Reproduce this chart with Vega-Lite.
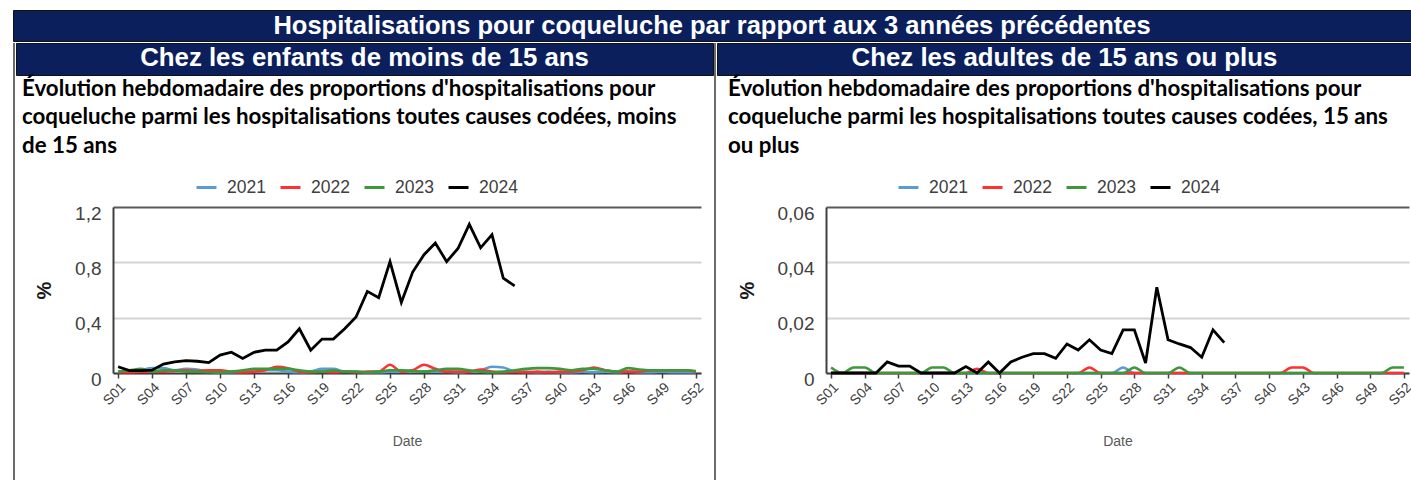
{
"$schema": "https://vega.github.io/schema/vega-lite/v6.json",
"background": "white",
"padding": {"left": 12, "top": 9, "right": 0, "bottom": 0},
"autosize": {"type": "pad"},
"datasets": {
"enfants": [
{"semaine":"S01","annee":"2021","valeur":0.01},{"semaine":"S02","annee":"2021","valeur":0.01},{"semaine":"S03","annee":"2021","valeur":0.02},{"semaine":"S04","annee":"2021","valeur":0.035},{"semaine":"S05","annee":"2021","valeur":0.035},{"semaine":"S06","annee":"2021","valeur":0.02},{"semaine":"S07","annee":"2021","valeur":0.03},{"semaine":"S08","annee":"2021","valeur":0.025},{"semaine":"S09","annee":"2021","valeur":0.01},{"semaine":"S10","annee":"2021","valeur":0.005},
{"semaine":"S11","annee":"2021","valeur":0.005},{"semaine":"S12","annee":"2021","valeur":0.01},{"semaine":"S13","annee":"2021","valeur":0.01},{"semaine":"S14","annee":"2021","valeur":0.02},{"semaine":"S15","annee":"2021","valeur":0.02},{"semaine":"S16","annee":"2021","valeur":0.01},{"semaine":"S17","annee":"2021","valeur":0.005},{"semaine":"S18","annee":"2021","valeur":0.01},{"semaine":"S19","annee":"2021","valeur":0.03},{"semaine":"S20","annee":"2021","valeur":0.03},
{"semaine":"S21","annee":"2021","valeur":0.01},{"semaine":"S22","annee":"2021","valeur":0.01},{"semaine":"S23","annee":"2021","valeur":0.005},{"semaine":"S24","annee":"2021","valeur":0.005},{"semaine":"S25","annee":"2021","valeur":0.01},{"semaine":"S26","annee":"2021","valeur":0.01},{"semaine":"S27","annee":"2021","valeur":0.015},{"semaine":"S28","annee":"2021","valeur":0.01},{"semaine":"S29","annee":"2021","valeur":0.01},{"semaine":"S30","annee":"2021","valeur":0.01},
{"semaine":"S31","annee":"2021","valeur":0.005},{"semaine":"S32","annee":"2021","valeur":0.01},{"semaine":"S33","annee":"2021","valeur":0.02},{"semaine":"S34","annee":"2021","valeur":0.045},{"semaine":"S35","annee":"2021","valeur":0.04},{"semaine":"S36","annee":"2021","valeur":0.01},{"semaine":"S37","annee":"2021","valeur":0.01},{"semaine":"S38","annee":"2021","valeur":0.005},{"semaine":"S39","annee":"2021","valeur":0.01},{"semaine":"S40","annee":"2021","valeur":0.005},
{"semaine":"S41","annee":"2021","valeur":0.005},{"semaine":"S42","annee":"2021","valeur":0.01},{"semaine":"S43","annee":"2021","valeur":0.005},{"semaine":"S44","annee":"2021","valeur":0.01},{"semaine":"S45","annee":"2021","valeur":0.005},{"semaine":"S46","annee":"2021","valeur":0.01},{"semaine":"S47","annee":"2021","valeur":0.005},{"semaine":"S48","annee":"2021","valeur":0.005},{"semaine":"S49","annee":"2021","valeur":0.01},{"semaine":"S50","annee":"2021","valeur":0.005},{"semaine":"S51","annee":"2021","valeur":0.005},{"semaine":"S52","annee":"2021","valeur":0.005},
{"semaine":"S01","annee":"2022","valeur":0.005},{"semaine":"S02","annee":"2022","valeur":0.005},{"semaine":"S03","annee":"2022","valeur":0.01},{"semaine":"S04","annee":"2022","valeur":0.01},{"semaine":"S05","annee":"2022","valeur":0.01},{"semaine":"S06","annee":"2022","valeur":0.015},{"semaine":"S07","annee":"2022","valeur":0.02},{"semaine":"S08","annee":"2022","valeur":0.015},{"semaine":"S09","annee":"2022","valeur":0.02},{"semaine":"S10","annee":"2022","valeur":0.02},
{"semaine":"S11","annee":"2022","valeur":0.01},{"semaine":"S12","annee":"2022","valeur":0.005},{"semaine":"S13","annee":"2022","valeur":0.01},{"semaine":"S14","annee":"2022","valeur":0.02},{"semaine":"S15","annee":"2022","valeur":0.045},{"semaine":"S16","annee":"2022","valeur":0.035},{"semaine":"S17","annee":"2022","valeur":0.01},{"semaine":"S18","annee":"2022","valeur":0.005},{"semaine":"S19","annee":"2022","valeur":0.01},{"semaine":"S20","annee":"2022","valeur":0.005},
{"semaine":"S21","annee":"2022","valeur":0.01},{"semaine":"S22","annee":"2022","valeur":0.005},{"semaine":"S23","annee":"2022","valeur":0.01},{"semaine":"S24","annee":"2022","valeur":0.01},{"semaine":"S25","annee":"2022","valeur":0.06},{"semaine":"S26","annee":"2022","valeur":0.01},{"semaine":"S27","annee":"2022","valeur":0.02},{"semaine":"S28","annee":"2022","valeur":0.06},{"semaine":"S29","annee":"2022","valeur":0.03},{"semaine":"S30","annee":"2022","valeur":0.01},
{"semaine":"S31","annee":"2022","valeur":0.01},{"semaine":"S32","annee":"2022","valeur":0.01},{"semaine":"S33","annee":"2022","valeur":0.025},{"semaine":"S34","annee":"2022","valeur":0.01},{"semaine":"S35","annee":"2022","valeur":0.005},{"semaine":"S36","annee":"2022","valeur":0.01},{"semaine":"S37","annee":"2022","valeur":0.005},{"semaine":"S38","annee":"2022","valeur":0.01},{"semaine":"S39","annee":"2022","valeur":0.005},{"semaine":"S40","annee":"2022","valeur":0.01},
{"semaine":"S41","annee":"2022","valeur":0.01},{"semaine":"S42","annee":"2022","valeur":0.02},{"semaine":"S43","annee":"2022","valeur":0.04},{"semaine":"S44","annee":"2022","valeur":0.02},{"semaine":"S45","annee":"2022","valeur":0.01},{"semaine":"S46","annee":"2022","valeur":0.01},{"semaine":"S47","annee":"2022","valeur":0.01},{"semaine":"S48","annee":"2022","valeur":0.02},{"semaine":"S49","annee":"2022","valeur":0.02},{"semaine":"S50","annee":"2022","valeur":0.02},{"semaine":"S51","annee":"2022","valeur":0.02},{"semaine":"S52","annee":"2022","valeur":0.01},
{"semaine":"S01","annee":"2023","valeur":0.01},{"semaine":"S02","annee":"2023","valeur":0.02},{"semaine":"S03","annee":"2023","valeur":0.03},{"semaine":"S04","annee":"2023","valeur":0.01},{"semaine":"S05","annee":"2023","valeur":0.02},{"semaine":"S06","annee":"2023","valeur":0.02},{"semaine":"S07","annee":"2023","valeur":0.01},{"semaine":"S08","annee":"2023","valeur":0.01},{"semaine":"S09","annee":"2023","valeur":0.005},{"semaine":"S10","annee":"2023","valeur":0.005},
{"semaine":"S11","annee":"2023","valeur":0.01},{"semaine":"S12","annee":"2023","valeur":0.02},{"semaine":"S13","annee":"2023","valeur":0.03},{"semaine":"S14","annee":"2023","valeur":0.03},{"semaine":"S15","annee":"2023","valeur":0.03},{"semaine":"S16","annee":"2023","valeur":0.03},{"semaine":"S17","annee":"2023","valeur":0.02},{"semaine":"S18","annee":"2023","valeur":0.01},{"semaine":"S19","annee":"2023","valeur":0.01},{"semaine":"S20","annee":"2023","valeur":0.02},
{"semaine":"S21","annee":"2023","valeur":0.01},{"semaine":"S22","annee":"2023","valeur":0.01},{"semaine":"S23","annee":"2023","valeur":0.005},{"semaine":"S24","annee":"2023","valeur":0.01},{"semaine":"S25","annee":"2023","valeur":0.02},{"semaine":"S26","annee":"2023","valeur":0.02},{"semaine":"S27","annee":"2023","valeur":0.015},{"semaine":"S28","annee":"2023","valeur":0.01},{"semaine":"S29","annee":"2023","valeur":0.02},{"semaine":"S30","annee":"2023","valeur":0.03},
{"semaine":"S31","annee":"2023","valeur":0.03},{"semaine":"S32","annee":"2023","valeur":0.02},{"semaine":"S33","annee":"2023","valeur":0.01},{"semaine":"S34","annee":"2023","valeur":0.005},{"semaine":"S35","annee":"2023","valeur":0.01},{"semaine":"S36","annee":"2023","valeur":0.02},{"semaine":"S37","annee":"2023","valeur":0.03},{"semaine":"S38","annee":"2023","valeur":0.035},{"semaine":"S39","annee":"2023","valeur":0.035},{"semaine":"S40","annee":"2023","valeur":0.03},
{"semaine":"S41","annee":"2023","valeur":0.02},{"semaine":"S42","annee":"2023","valeur":0.03},{"semaine":"S43","annee":"2023","valeur":0.03},{"semaine":"S44","annee":"2023","valeur":0.02},{"semaine":"S45","annee":"2023","valeur":0.01},{"semaine":"S46","annee":"2023","valeur":0.035},{"semaine":"S47","annee":"2023","valeur":0.025},{"semaine":"S48","annee":"2023","valeur":0.02},{"semaine":"S49","annee":"2023","valeur":0.02},{"semaine":"S50","annee":"2023","valeur":0.02},{"semaine":"S51","annee":"2023","valeur":0.02},{"semaine":"S52","annee":"2023","valeur":0.015},
{"semaine":"S01","annee":"2024","valeur":0.045},{"semaine":"S02","annee":"2024","valeur":0.017},{"semaine":"S03","annee":"2024","valeur":0.017},{"semaine":"S04","annee":"2024","valeur":0.02},{"semaine":"S05","annee":"2024","valeur":0.065},{"semaine":"S06","annee":"2024","valeur":0.08},{"semaine":"S07","annee":"2024","valeur":0.09},{"semaine":"S08","annee":"2024","valeur":0.085},{"semaine":"S09","annee":"2024","valeur":0.075},{"semaine":"S10","annee":"2024","valeur":0.13},
{"semaine":"S11","annee":"2024","valeur":0.15},{"semaine":"S12","annee":"2024","valeur":0.105},{"semaine":"S13","annee":"2024","valeur":0.15},{"semaine":"S14","annee":"2024","valeur":0.165},{"semaine":"S15","annee":"2024","valeur":0.165},{"semaine":"S16","annee":"2024","valeur":0.225},{"semaine":"S17","annee":"2024","valeur":0.32},{"semaine":"S18","annee":"2024","valeur":0.165},{"semaine":"S19","annee":"2024","valeur":0.245},{"semaine":"S20","annee":"2024","valeur":0.245},
{"semaine":"S21","annee":"2024","valeur":0.32},{"semaine":"S22","annee":"2024","valeur":0.405},{"semaine":"S23","annee":"2024","valeur":0.59},{"semaine":"S24","annee":"2024","valeur":0.545},{"semaine":"S25","annee":"2024","valeur":0.805},{"semaine":"S26","annee":"2024","valeur":0.51},{"semaine":"S27","annee":"2024","valeur":0.73},{"semaine":"S28","annee":"2024","valeur":0.855},{"semaine":"S29","annee":"2024","valeur":0.94},{"semaine":"S30","annee":"2024","valeur":0.805},
{"semaine":"S31","annee":"2024","valeur":0.9},{"semaine":"S32","annee":"2024","valeur":1.075},{"semaine":"S33","annee":"2024","valeur":0.905},{"semaine":"S34","annee":"2024","valeur":1.0},{"semaine":"S35","annee":"2024","valeur":0.685},{"semaine":"S36","annee":"2024","valeur":0.63}
],
"adultes": [
{"semaine":"S01","annee":"2021","valeur":0},{"semaine":"S02","annee":"2021","valeur":0},{"semaine":"S03","annee":"2021","valeur":0},{"semaine":"S04","annee":"2021","valeur":0},{"semaine":"S05","annee":"2021","valeur":0},{"semaine":"S06","annee":"2021","valeur":0},{"semaine":"S07","annee":"2021","valeur":0},{"semaine":"S08","annee":"2021","valeur":0},{"semaine":"S09","annee":"2021","valeur":0},{"semaine":"S10","annee":"2021","valeur":0},
{"semaine":"S11","annee":"2021","valeur":0},{"semaine":"S12","annee":"2021","valeur":0},{"semaine":"S13","annee":"2021","valeur":0},{"semaine":"S14","annee":"2021","valeur":0},{"semaine":"S15","annee":"2021","valeur":0},{"semaine":"S16","annee":"2021","valeur":0},{"semaine":"S17","annee":"2021","valeur":0},{"semaine":"S18","annee":"2021","valeur":0},{"semaine":"S19","annee":"2021","valeur":0},{"semaine":"S20","annee":"2021","valeur":0},
{"semaine":"S21","annee":"2021","valeur":0},{"semaine":"S22","annee":"2021","valeur":0},{"semaine":"S23","annee":"2021","valeur":0},{"semaine":"S24","annee":"2021","valeur":0},{"semaine":"S25","annee":"2021","valeur":0},{"semaine":"S26","annee":"2021","valeur":0},{"semaine":"S27","annee":"2021","valeur":0.002},{"semaine":"S28","annee":"2021","valeur":0},{"semaine":"S29","annee":"2021","valeur":0},{"semaine":"S30","annee":"2021","valeur":0},
{"semaine":"S31","annee":"2021","valeur":0},{"semaine":"S32","annee":"2021","valeur":0},{"semaine":"S33","annee":"2021","valeur":0},{"semaine":"S34","annee":"2021","valeur":0},{"semaine":"S35","annee":"2021","valeur":0},{"semaine":"S36","annee":"2021","valeur":0},{"semaine":"S37","annee":"2021","valeur":0},{"semaine":"S38","annee":"2021","valeur":0},{"semaine":"S39","annee":"2021","valeur":0},{"semaine":"S40","annee":"2021","valeur":0},
{"semaine":"S41","annee":"2021","valeur":0},{"semaine":"S42","annee":"2021","valeur":0},{"semaine":"S43","annee":"2021","valeur":0},{"semaine":"S44","annee":"2021","valeur":0},{"semaine":"S45","annee":"2021","valeur":0},{"semaine":"S46","annee":"2021","valeur":0},{"semaine":"S47","annee":"2021","valeur":0},{"semaine":"S48","annee":"2021","valeur":0},{"semaine":"S49","annee":"2021","valeur":0},{"semaine":"S50","annee":"2021","valeur":0},{"semaine":"S51","annee":"2021","valeur":0},{"semaine":"S52","annee":"2021","valeur":0},
{"semaine":"S01","annee":"2022","valeur":0},{"semaine":"S02","annee":"2022","valeur":0},{"semaine":"S03","annee":"2022","valeur":0},{"semaine":"S04","annee":"2022","valeur":0},{"semaine":"S05","annee":"2022","valeur":0},{"semaine":"S06","annee":"2022","valeur":0},{"semaine":"S07","annee":"2022","valeur":0},{"semaine":"S08","annee":"2022","valeur":0},{"semaine":"S09","annee":"2022","valeur":0},{"semaine":"S10","annee":"2022","valeur":0},
{"semaine":"S11","annee":"2022","valeur":0},{"semaine":"S12","annee":"2022","valeur":0},{"semaine":"S13","annee":"2022","valeur":0},{"semaine":"S14","annee":"2022","valeur":0.0015},{"semaine":"S15","annee":"2022","valeur":0},{"semaine":"S16","annee":"2022","valeur":0},{"semaine":"S17","annee":"2022","valeur":0},{"semaine":"S18","annee":"2022","valeur":0},{"semaine":"S19","annee":"2022","valeur":0},{"semaine":"S20","annee":"2022","valeur":0},
{"semaine":"S21","annee":"2022","valeur":0},{"semaine":"S22","annee":"2022","valeur":0},{"semaine":"S23","annee":"2022","valeur":0},{"semaine":"S24","annee":"2022","valeur":0.002},{"semaine":"S25","annee":"2022","valeur":0},{"semaine":"S26","annee":"2022","valeur":0},{"semaine":"S27","annee":"2022","valeur":0},{"semaine":"S28","annee":"2022","valeur":0},{"semaine":"S29","annee":"2022","valeur":0},{"semaine":"S30","annee":"2022","valeur":0},
{"semaine":"S31","annee":"2022","valeur":0},{"semaine":"S32","annee":"2022","valeur":0},{"semaine":"S33","annee":"2022","valeur":0},{"semaine":"S34","annee":"2022","valeur":0},{"semaine":"S35","annee":"2022","valeur":0},{"semaine":"S36","annee":"2022","valeur":0},{"semaine":"S37","annee":"2022","valeur":0},{"semaine":"S38","annee":"2022","valeur":0},{"semaine":"S39","annee":"2022","valeur":0},{"semaine":"S40","annee":"2022","valeur":0},
{"semaine":"S41","annee":"2022","valeur":0},{"semaine":"S42","annee":"2022","valeur":0.002},{"semaine":"S43","annee":"2022","valeur":0.002},{"semaine":"S44","annee":"2022","valeur":0},{"semaine":"S45","annee":"2022","valeur":0},{"semaine":"S46","annee":"2022","valeur":0},{"semaine":"S47","annee":"2022","valeur":0},{"semaine":"S48","annee":"2022","valeur":0},{"semaine":"S49","annee":"2022","valeur":0},{"semaine":"S50","annee":"2022","valeur":0},{"semaine":"S51","annee":"2022","valeur":0},{"semaine":"S52","annee":"2022","valeur":0},
{"semaine":"S01","annee":"2023","valeur":0.002},{"semaine":"S02","annee":"2023","valeur":0},{"semaine":"S03","annee":"2023","valeur":0.002},{"semaine":"S04","annee":"2023","valeur":0.002},{"semaine":"S05","annee":"2023","valeur":0},{"semaine":"S06","annee":"2023","valeur":0},{"semaine":"S07","annee":"2023","valeur":0},{"semaine":"S08","annee":"2023","valeur":0},{"semaine":"S09","annee":"2023","valeur":0},{"semaine":"S10","annee":"2023","valeur":0.002},
{"semaine":"S11","annee":"2023","valeur":0.002},{"semaine":"S12","annee":"2023","valeur":0},{"semaine":"S13","annee":"2023","valeur":0},{"semaine":"S14","annee":"2023","valeur":0},{"semaine":"S15","annee":"2023","valeur":0},{"semaine":"S16","annee":"2023","valeur":0},{"semaine":"S17","annee":"2023","valeur":0},{"semaine":"S18","annee":"2023","valeur":0},{"semaine":"S19","annee":"2023","valeur":0},{"semaine":"S20","annee":"2023","valeur":0},
{"semaine":"S21","annee":"2023","valeur":0},{"semaine":"S22","annee":"2023","valeur":0},{"semaine":"S23","annee":"2023","valeur":0},{"semaine":"S24","annee":"2023","valeur":0},{"semaine":"S25","annee":"2023","valeur":0},{"semaine":"S26","annee":"2023","valeur":0},{"semaine":"S27","annee":"2023","valeur":0},{"semaine":"S28","annee":"2023","valeur":0.002},{"semaine":"S29","annee":"2023","valeur":0},{"semaine":"S30","annee":"2023","valeur":0},
{"semaine":"S31","annee":"2023","valeur":0},{"semaine":"S32","annee":"2023","valeur":0.002},{"semaine":"S33","annee":"2023","valeur":0},{"semaine":"S34","annee":"2023","valeur":0},{"semaine":"S35","annee":"2023","valeur":0},{"semaine":"S36","annee":"2023","valeur":0},{"semaine":"S37","annee":"2023","valeur":0},{"semaine":"S38","annee":"2023","valeur":0},{"semaine":"S39","annee":"2023","valeur":0},{"semaine":"S40","annee":"2023","valeur":0},
{"semaine":"S41","annee":"2023","valeur":0},{"semaine":"S42","annee":"2023","valeur":0},{"semaine":"S43","annee":"2023","valeur":0},{"semaine":"S44","annee":"2023","valeur":0},{"semaine":"S45","annee":"2023","valeur":0},{"semaine":"S46","annee":"2023","valeur":0},{"semaine":"S47","annee":"2023","valeur":0},{"semaine":"S48","annee":"2023","valeur":0},{"semaine":"S49","annee":"2023","valeur":0},{"semaine":"S50","annee":"2023","valeur":0},{"semaine":"S51","annee":"2023","valeur":0.002},{"semaine":"S52","annee":"2023","valeur":0.002},
{"semaine":"S01","annee":"2024","valeur":0},{"semaine":"S02","annee":"2024","valeur":0},{"semaine":"S03","annee":"2024","valeur":0},{"semaine":"S04","annee":"2024","valeur":0},{"semaine":"S05","annee":"2024","valeur":0},{"semaine":"S06","annee":"2024","valeur":0.004},{"semaine":"S07","annee":"2024","valeur":0.0025},{"semaine":"S08","annee":"2024","valeur":0.0025},{"semaine":"S09","annee":"2024","valeur":0},{"semaine":"S10","annee":"2024","valeur":0},
{"semaine":"S11","annee":"2024","valeur":0},{"semaine":"S12","annee":"2024","valeur":0},{"semaine":"S13","annee":"2024","valeur":0.0023},{"semaine":"S14","annee":"2024","valeur":0},{"semaine":"S15","annee":"2024","valeur":0.004},{"semaine":"S16","annee":"2024","valeur":0},{"semaine":"S17","annee":"2024","valeur":0.004},{"semaine":"S18","annee":"2024","valeur":0.0057},{"semaine":"S19","annee":"2024","valeur":0.007},{"semaine":"S20","annee":"2024","valeur":0.007},
{"semaine":"S21","annee":"2024","valeur":0.0053},{"semaine":"S22","annee":"2024","valeur":0.0105},{"semaine":"S23","annee":"2024","valeur":0.0083},{"semaine":"S24","annee":"2024","valeur":0.012},{"semaine":"S25","annee":"2024","valeur":0.0083},{"semaine":"S26","annee":"2024","valeur":0.007},{"semaine":"S27","annee":"2024","valeur":0.0156},{"semaine":"S28","annee":"2024","valeur":0.0156},{"semaine":"S29","annee":"2024","valeur":0.0036},{"semaine":"S30","annee":"2024","valeur":0.031},
{"semaine":"S31","annee":"2024","valeur":0.012},{"semaine":"S32","annee":"2024","valeur":0.0105},{"semaine":"S33","annee":"2024","valeur":0.0092},{"semaine":"S34","annee":"2024","valeur":0.0057},{"semaine":"S35","annee":"2024","valeur":0.0156},{"semaine":"S36","annee":"2024","valeur":0.011}
]
},
"spacing": 0,
"resolve": {"scale": {"color": "independent"}, "legend": {"color": "independent"}},
"vconcat": [
{
"width": 1398, "height": 31,
"data": {"values": [{}]},
"mark": {"type": "text", "text": "Hospitalisations pour coqueluche par rapport aux 3 années précédentes", "color": "white", "font": "Liberation Sans", "fontWeight": "bold", "fontSize": 25.5},
"encoding": {},
"view": {"fill": "#0a1f5c", "stroke": "#111111", "strokeWidth": 1}
},
{
"hconcat": [
{"width": 2, "height": 450, "data": {"values": [{}]}, "mark": {"type": "text", "text": ""}, "encoding": {}, "view": {"fill": "#6b6b6b"}},
{
"vconcat": [
{
"width": 697, "height": 32,
"data": {"values": [{}]},
"mark": {"type": "text", "text": "Chez les enfants de moins de 15 ans", "color": "white", "font": "Liberation Sans", "fontWeight": "bold", "fontSize": 25.8, "dy": -1},
"encoding": {},
"view": {"fill": "#0a1f5c", "stroke": "#111111", "strokeWidth": 1}
},
{
"hconcat": [
{"width": 6, "height": 166, "data": {"values": [{}]}, "mark": {"type": "text", "text": ""}, "encoding": {}},
{
"width": 588, "height": 166,
"data": {"name": "enfants"},
"title": {"text": ["Évolution hebdomadaire des proportions d'hospitalisations pour", "coqueluche parmi les hospitalisations toutes causes codées, moins", "de 15 ans"], "anchor": "start", "frame": "group", "dx": -91, "offset": 19, "font": "Lato", "fontWeight": "bold", "fontSize": 22.3, "lineHeight": 28.5, "color": "#000000"},
"encoding": {
"x": {"field": "semaine", "type": "ordinal", "scale": {"type": "point", "padding": 0.45}, "axis": {"values": ["S01","S04","S07","S10","S13","S16","S19","S22","S25","S28","S31","S34","S37","S40","S43","S46","S49","S52"], "title": "Date"}},
"y": {"field": "valeur", "type": "quantitative", "scale": {"domain": [0, 1.2], "nice": false}, "axis": {"values": [0, 0.4, 0.8, 1.2], "labelExpr": "datum.value == 0 ? '0' : replace(format(datum.value, '.1f'), '.', ',')", "title": "%", "gridColor": {"condition": {"test": "datum.index == 1", "value": "#5a5a5a"}, "value": "#d4d4d4"}}},
"color": {"field": "annee", "type": "nominal", "scale": {"domain": ["2021","2022","2023","2024"], "range": ["#5b9bd5","#ff3030","#3a9a3a","#000000"]}, "legend": {"orient": "none", "legendX": 82, "legendY": -31, "direction": "horizontal", "title": null, "symbolType": "stroke", "symbolSize": 400, "symbolStrokeWidth": 3, "labelFontSize": 17.5, "labelColor": "#404040", "labelFont": "Liberation Sans", "columnPadding": 8, "labelOffset": 9, "padding": 0}}
},
"layer": [
{"transform": [{"filter": "datum.annee != '2024'"}], "mark": {"type": "line", "interpolate": "monotone", "strokeWidth": 2.6}},
{"transform": [{"filter": "datum.annee == '2024'"}], "mark": {"type": "line", "strokeWidth": 2.8}}
]
}
],
"spacing": 0,
"resolve": {"scale": {"color": "independent"}, "legend": {"color": "independent"}}
}
],
"spacing": 1,
"resolve": {"scale": {"color": "independent"}, "legend": {"color": "independent"}}
},
{"width": 2, "height": 450, "data": {"values": [{}]}, "mark": {"type": "text", "text": ""}, "encoding": {}, "view": {"fill": "#6b6b6b"}},
{
"vconcat": [
{
"width": 695, "height": 32,
"data": {"values": [{}]},
"mark": {"type": "text", "text": "Chez les adultes de 15 ans ou plus", "color": "white", "font": "Liberation Sans", "fontWeight": "bold", "fontSize": 25.8, "dy": -1},
"encoding": {},
"view": {"fill": "#0a1f5c", "stroke": "#111111", "strokeWidth": 1}
},
{
"hconcat": [
{"width": 11, "height": 166, "data": {"values": [{}]}, "mark": {"type": "text", "text": ""}, "encoding": {}},
{
"width": 583, "height": 166,
"data": {"name": "adultes"},
"title": {"text": ["Évolution hebdomadaire des proportions d'hospitalisations pour", "coqueluche parmi les hospitalisations toutes causes codées, 15 ans", "ou plus"], "anchor": "start", "frame": "group", "dx": -98, "offset": 19, "font": "Lato", "fontWeight": "bold", "fontSize": 22.3, "lineHeight": 28.5, "color": "#000000"},
"encoding": {
"x": {"field": "semaine", "type": "ordinal", "scale": {"type": "point", "padding": 0.45}, "axis": {"values": ["S01","S04","S07","S10","S13","S16","S19","S22","S25","S28","S31","S34","S37","S40","S43","S46","S49","S52"], "title": "Date"}},
"y": {"field": "valeur", "type": "quantitative", "scale": {"domain": [0, 0.06], "nice": false}, "axis": {"values": [0, 0.02, 0.04, 0.06], "labelExpr": "datum.value == 0 ? '0' : replace(format(datum.value, '.2f'), '.', ',')", "title": "%", "gridColor": {"condition": {"test": "datum.index == 1", "value": "#5a5a5a"}, "value": "#d4d4d4"}}},
"color": {"field": "annee", "type": "nominal", "scale": {"domain": ["2021","2022","2023","2024"], "range": ["#5b9bd5","#ff3030","#3a9a3a","#000000"]}, "legend": {"orient": "none", "legendX": 71, "legendY": -31, "direction": "horizontal", "title": null, "symbolType": "stroke", "symbolSize": 400, "symbolStrokeWidth": 3, "labelFontSize": 17.5, "labelColor": "#404040", "labelFont": "Liberation Sans", "columnPadding": 8, "labelOffset": 9, "padding": 0}}
},
"layer": [
{"transform": [{"filter": "datum.annee != '2024'"}], "mark": {"type": "line", "interpolate": "monotone", "strokeWidth": 2.6}},
{"transform": [{"filter": "datum.annee == '2024'"}], "mark": {"type": "line", "strokeWidth": 2.8}}
]
}
],
"spacing": 0,
"resolve": {"scale": {"color": "independent"}, "legend": {"color": "independent"}}
}
],
"spacing": 1,
"resolve": {"scale": {"color": "independent"}, "legend": {"color": "independent"}}
},
{"width": 2, "height": 450, "data": {"values": [{}]}, "mark": {"type": "text", "text": ""}, "encoding": {}, "view": {"fill": "#6b6b6b"}}
],
"spacing": 0,
"resolve": {"scale": {"color": "independent"}, "legend": {"color": "independent"}}
}
],
"config": {
"view": {"stroke": null},
"font": "Liberation Sans",
"axis": {"labelFont": "Liberation Sans", "titleFont": "Liberation Sans", "labelColor": "#404040", "domainColor": "#404040", "domainWidth": 2, "tickColor": "#404040"},
"axisY": {"grid": true, "gridWidth": 2, "ticks": false, "labelPadding": 12, "labelOffset": 6, "labelFontSize": 19, "titleFontSize": 20, "titleFontWeight": "bold", "titleColor": "#1a1a1a", "titlePadding": 20},
"axisX": {"grid": false, "labelAngle": -45, "labelFontSize": 14, "tickSize": 5, "tickWidth": 1.5, "titleFontSize": 14, "titleFontWeight": "normal", "titleColor": "#595959", "titlePadding": 27, "labelPadding": 2, "labelOverlap": false}
}
}
